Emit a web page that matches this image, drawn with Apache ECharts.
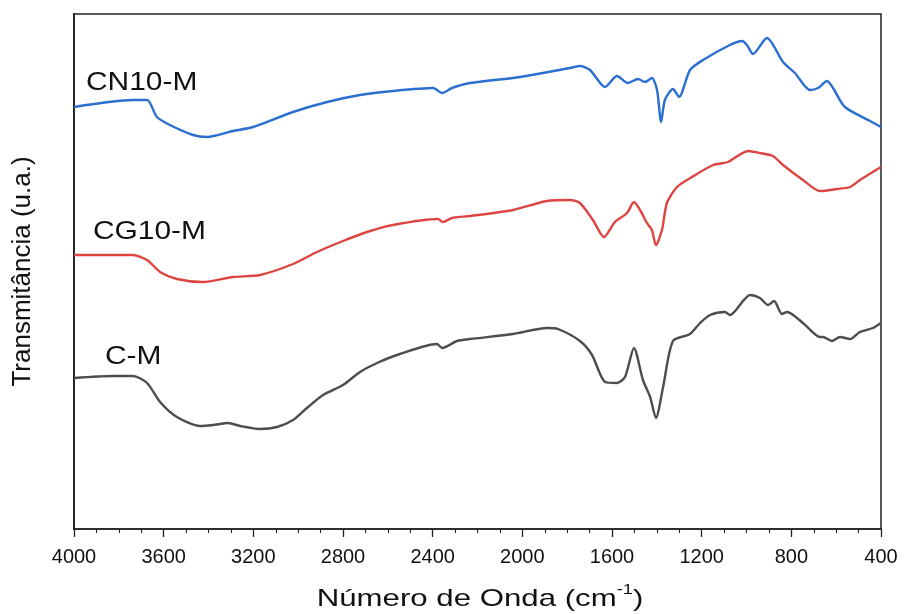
<!DOCTYPE html>
<html>
<head>
<meta charset="utf-8">
<script src="https://cdn.jsdelivr.net/npm/echarts@6/dist/echarts.min.js"></script>
<style>
  html, body { margin: 0; padding: 0; background: #fff; }
  #chart { width: 906px; height: 614px; }
</style>
</head>
<body>
<div id="chart"></div>
<script>
// FTIR spectra (offset vertically, arbitrary units)
const xTicks = [4000, 3600, 3200, 2800, 2400, 2000, 1600, 1200, 800, 400];

const cnWave = [4000, 3737, 3674, 3630, 3572, 3469, 3407, 3291, 3201, 3023, 2871, 2724, 2577, 2398, 2358, 2314, 2233, 2010, 1787, 1743, 1698, 1631, 1578, 1529, 1484, 1453, 1422, 1399, 1381, 1364, 1328, 1301, 1252, 1194, 1074, 1020, 998, 971, 909, 837, 784, 717, 681, 641, 614, 561, 449, 400];
const cnT = [422, 429, 429, 412, 404, 394, 392, 398, 402, 417, 427, 434, 438, 441, 436, 441, 446, 452, 461, 463, 459, 442, 453, 446, 450, 447, 451, 439, 407, 429, 440, 432, 459, 469, 484, 488, 484, 475, 491, 467, 456, 439, 441, 448, 441, 422, 408, 402];

const cgWave = [4000, 3737, 3674, 3616, 3541, 3425, 3291, 3170, 3023, 2916, 2800, 2693, 2577, 2376, 2354, 2314, 2233, 2042, 1890, 1787, 1743, 1685, 1636, 1587, 1533, 1502, 1475, 1444, 1422, 1404, 1377, 1355, 1310, 1243, 1149, 1083, 993, 940, 882, 837, 748, 672, 596, 538, 494, 400];
const cgT = [274, 274, 269, 257, 250, 247, 252, 254, 265, 277, 288, 297, 304, 310, 307, 311, 313, 319, 328, 329, 326, 309, 292, 307, 316, 327, 319, 306, 299, 284, 299, 326, 342, 352, 364, 367, 378, 376, 373, 364, 349, 338, 340, 342, 349, 362];

const cmWave = [4000, 3826, 3737, 3674, 3616, 3541, 3438, 3380, 3313, 3259, 3170, 3094, 3023, 2961, 2889, 2800, 2724, 2648, 2546, 2381, 2358, 2291, 2233, 2042, 1890, 1841, 1743, 1689, 1631, 1578, 1542, 1502, 1462, 1430, 1404, 1372, 1328, 1252, 1207, 1163, 1096, 1074, 984, 940, 904, 877, 842, 819, 748, 672, 659, 619, 583, 538, 494, 436, 400];
const cmT = [151, 153, 153, 146, 127, 112, 103, 104, 106, 103, 100, 102, 109, 121, 134, 144, 157, 166, 175, 185, 181, 188, 190, 195, 201, 200, 188, 174, 147, 146, 152, 181, 149, 132, 111, 142, 188, 195, 206, 214, 217, 214, 234, 231, 224, 228, 215, 217, 206, 192, 192, 188, 192, 190, 197, 201, 206];

const seriesNames = ['CN10-M', 'CG10-M', 'C-M'];
const seriesColors = ['#2b6fd0', '#dd4541', '#4d4d4d'];

const zip = (xs, ys) => xs.map((x, i) => [x, ys[i]]);
const spectra = [zip(cnWave, cnT), zip(cgWave, cgT), zip(cmWave, cmT)];

const chart = echarts.init(document.getElementById('chart'), null, { renderer: 'canvas' });
const font = 'Liberation Sans, Arial, sans-serif';

// curve labels, placed beside the left end of each spectrum
const labelSpots = [[86, 82.5], [93, 232], [105, 357]];

chart.setOption({
  animation: false,
  backgroundColor: '#fff',
  grid: {
    left: 74, right: 25, top: 14, bottom: 85,
    show: true, borderColor: '#222', borderWidth: 1.5, backgroundColor: 'transparent'
  },
  xAxis: {
    type: 'value',
    inverse: true,
    min: 400, max: 4000, interval: 400,
    axisLine: { show: true, onZero: false, lineStyle: { color: '#222', width: 1.5 } },
    axisTick: { show: true, inside: false, length: 8, lineStyle: { color: '#222', width: 1.3 } },
    minorTick: { show: true, splitNumber: 4, length: 4, lineStyle: { color: '#222', width: 1.1 } },
    splitLine: { show: false },
    axisLabel: {
      color: '#111', fontFamily: font, fontSize: 20, margin: 18,
      formatter: v => (xTicks.indexOf(v) >= 0 ? String(v) : '')
    }
  },
  yAxis: {
    type: 'value',
    min: 0, max: 515,
    axisLine: { show: true, lineStyle: { color: '#222', width: 1.8 } },
    axisTick: { show: false },
    axisLabel: { show: false },
    splitLine: { show: false },
    name: 'Transmitância (u.a.)',
    nameLocation: 'middle',
    nameGap: 38,
    nameTextStyle: { fontFamily: font, fontSize: 26, color: '#111' }
  },
  series: spectra.map((d, i) => ({
    name: seriesNames[i],
    type: 'line',
    data: d,
    showSymbol: false,
    smooth: 0.25,
    lineStyle: { color: seriesColors[i], width: 2.4 },
    itemStyle: { color: seriesColors[i] }
  })),
  graphic: [
    ...seriesNames.map((name, i) => ({
      type: 'text',
      x: labelSpots[i][0], y: labelSpots[i][1],
      scaleX: 1.15,
      style: {
        text: name, font: '26px ' + font, fill: '#111',
        align: 'left', verticalAlign: 'middle'
      }
    })),
    {
      type: 'text',
      x: 480, y: 597,
      scaleX: 1.3,
      style: {
        text: '{a|Número de Onda (cm}{s|-1}{a|)}',
        align: 'center', verticalAlign: 'middle',
        rich: {
          a: { font: '24px ' + font, fill: '#111', lineHeight: 28, verticalAlign: 'bottom' },
          s: { font: '14px ' + font, fill: '#111', lineHeight: 28, verticalAlign: 'top' }
        }
      }
    }
  ]
});
</script>
</body>
</html>
